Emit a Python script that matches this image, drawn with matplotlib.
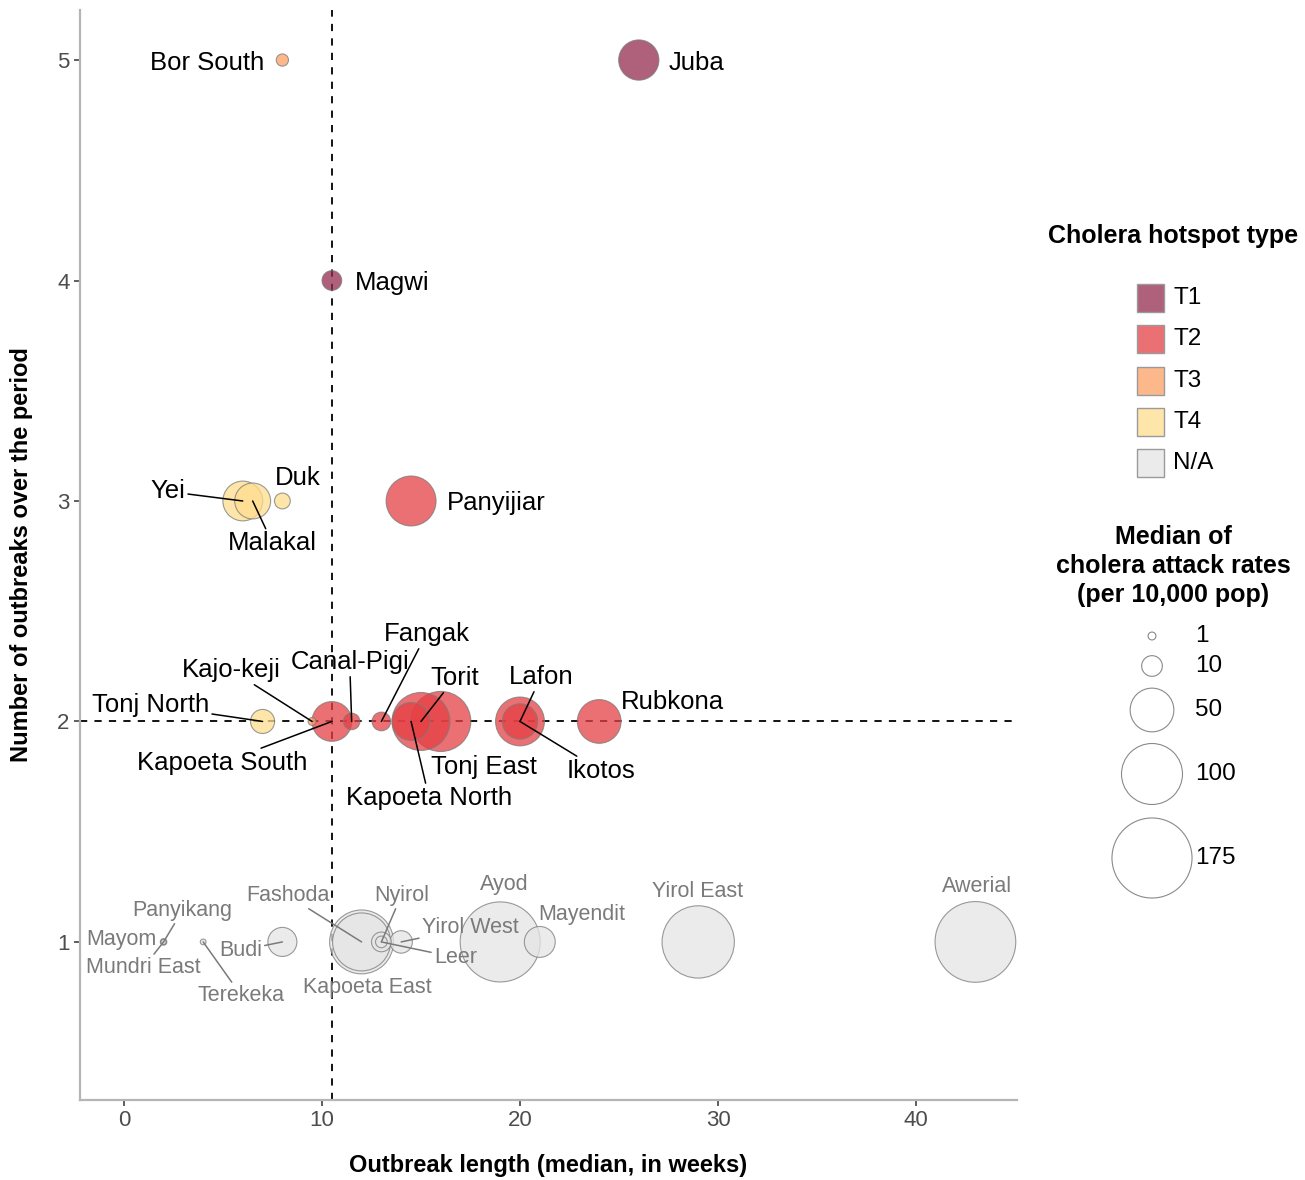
"""Cholera hotspots in South Sudan: outbreak count vs outbreak length, bubble = attack rate."""
import numpy as np
import matplotlib
matplotlib.use("Agg")
import matplotlib.pyplot as plt

plt.rcParams["font.family"] = ["Liberation Sans", "DejaVu Sans"]

# ---- data ----
counties = ["Juba", "Magwi", "Bor South", "Yei", "Malakal", "Duk", "Panyijiar",
            "Tonj North", "Kajo-keji", "Kapoeta South", "Canal-Pigi", "Fangak",
            "Kapoeta North", "Torit", "Tonj East", "Lafon", "Ikotos", "Rubkona",
            "Mayom", "Mundri East", "Panyikang", "Terekeka", "Budi", "Fashoda",
            "Kapoeta East", "Nyirol", "Leer", "Yirol West", "Ayod", "Mayendit",
            "Yirol East", "Awerial"]
hotspot = ["T1", "T1", "T3", "T4", "T4", "T4", "T2",
           "T4", "T3", "T2", "T2", "T2",
           "T2", "T2", "T2", "T2", "T2", "T2",
           "N/A", "N/A", "N/A", "N/A", "N/A", "N/A",
           "N/A", "N/A", "N/A", "N/A", "N/A", "N/A",
           "N/A", "N/A"]
length_wk = [26, 10.5, 8, 6, 6.5, 8, 14.5,
             7, 9.5, 10.5, 11.5, 13,
             14.5, 15, 16, 20, 20, 24,
             2, 2, 2, 4, 8, 12,
             12, 13, 13, 14, 19, 21,
             29, 43]
n_outbreaks = [5, 4, 5, 3, 3, 3, 3,
               2, 2, 2, 2, 2,
               2, 2, 2, 2, 2, 2,
               1, 1, 1, 1, 1, 1,
               1, 1, 1, 1, 1, 1,
               1, 1]
attack_rate = [42, 9, 3, 41, 33, 5.5, 66,
               14, 1, 41, 6, 8,
               37, 90, 97, 63, 32, 50,
               0.6, 0.3, 0.3, 0.4, 21, 110,
               90, 9, 2.7, 12, 175, 24,
               142, 178]

types = ["T1", "T2", "T3", "T4", "N/A"]
type_colors = {"T1": "#952B4D", "T2": "#E54044", "T3": "#FBA165",
               "T4": "#FEDD8E", "N/A": "#E5E5E5"}
size_breaks = [1, 10, 50, 100, 175]

# label placement (repel-like offsets in pixels, y down) and whether a segment is drawn
lab_off = [(58, 0), (60, 0), (-75, 0), (-75, -12), (20, 40), (15, -25), (85, 0),
           (-112, -19), (-81, -54), (-110, 39), (-2, -62), (45, -90),
           (18, 74), (34, -46), (43, 43), (21, -47), (81, 47), (73, -22),
           (-42, -5), (-20, 23), (19, -34), (38, 51), (-42, 6), (-74, -49),
           (6, 43), (20, -49), (74, 13), (69, -17), (4, -60), (42, -30),
           (-1, -53), (2, -58)]
lab_seg = [0, 0, 0, 1, 1, 0, 0,
           1, 1, 1, 1, 1,
           1, 1, 0, 1, 1, 0,
           0, 1, 1, 1, 1, 1,
           0, 1, 1, 1, 0, 0,
           0, 0]

DPI = 100
PT = 72 / DPI  # points per pixel


def bubble_s(v):
    r_px = 1.0 + 2.95 * np.sqrt(np.asarray(v, dtype=float))
    return (2 * r_px * PT) ** 2


fig = plt.figure(figsize=(13.05, 11.8), dpi=DPI)
ax = fig.add_axes([80 / 1305, 1 - 1100 / 1180, 937 / 1305, 1090 / 1180])

x = np.array(length_wk)
y = np.array(n_outbreaks)
v = np.array(attack_rate)
order = np.argsort(-v)
cols = [type_colors[hotspot[i]] for i in order]
ax.scatter(x[order], y[order], s=bubble_s(v[order]), c=cols, alpha=0.75,
           edgecolors="#7a7a7a", linewidths=0.8, zorder=3)

ax.axvline(10.5, color="black", ls=(0, (4, 4)), lw=1.3, zorder=2)
ax.axhline(2, color="black", ls=(0, (4, 4)), lw=1.3, zorder=2)

for i, name in enumerate(counties):
    na = hotspot[i] == "N/A"
    dx, dy = lab_off[i]
    arrow = dict(arrowstyle="-", color="#7a7a7a" if na else "black", lw=1.1,
                 shrinkA=0, shrinkB=0) if lab_seg[i] else None
    ax.annotate(name, (x[i], y[i]), xytext=(dx * PT, -dy * PT), textcoords="offset points",
                ha="center", va="center_baseline", fontsize=15.5 if na else 18.5,
                color="#7a7a7a" if na else "black", arrowprops=arrow, zorder=5)

ax.set_xlim(-2.22, 45.1)
ax.set_ylim(0.283, 5.227)
ax.set_xticks([0, 10, 20, 30, 40])
ax.set_yticks([1, 2, 3, 4, 5])
for sp in ["top", "right"]:
    ax.spines[sp].set_visible(False)
for sp in ["left", "bottom"]:
    ax.spines[sp].set_color("#b5b5b5")
    ax.spines[sp].set_linewidth(1.6)
ax.tick_params(colors="#333333", labelcolor="#4d4d4d", labelsize=16, length=4, width=1.1)
ax.set_xlabel("Outbreak length (median, in weeks)", fontsize=17, fontweight="bold", labelpad=16)
ax.set_ylabel("Number of outbreaks over the period", fontsize=17, fontweight="bold", labelpad=17)

# ---- legends, drawn in a pixel-coordinate axes on the right ----
lg = fig.add_axes([1030 / 1305, 1 - 910 / 1180, 275 / 1305, 700 / 1180])
lg.set_xlim(1030, 1305)
lg.set_ylim(910, 210)
lg.axis("off")
lg.text(1173, 236, "Cholera hotspot type", ha="center", va="center",
        fontsize=18, fontweight="bold")
for k, t in enumerate(types):
    yc = 298 + k * 41.3
    lg.add_patch(plt.Rectangle((1137, yc - 14), 27, 28, facecolor=type_colors[t], alpha=0.75,
                               edgecolor="none"))
    lg.add_patch(plt.Rectangle((1137, yc - 14), 27, 28, facecolor="none",
                               edgecolor="#9a9a9a", lw=1.0))
    lg.text(1173, yc, t, ha="left", va="center", fontsize=17.5)

lg.text(1173, 566, "Median of\ncholera attack rates\n(per 10,000 pop)", ha="center", va="center",
        fontsize=18, fontweight="bold", linespacing=1.25)
size_y = [636, 666, 710, 774, 858]
lg.scatter([1152] * len(size_breaks), size_y, s=bubble_s(size_breaks), facecolors="white",
           edgecolors="#8a8a8a", linewidths=0.8)
for b, yc in zip(size_breaks, size_y):
    lg.text(1195, yc, str(b), ha="left", va="center", fontsize=17.5)

fig.savefig("out.png", dpi=DPI)
